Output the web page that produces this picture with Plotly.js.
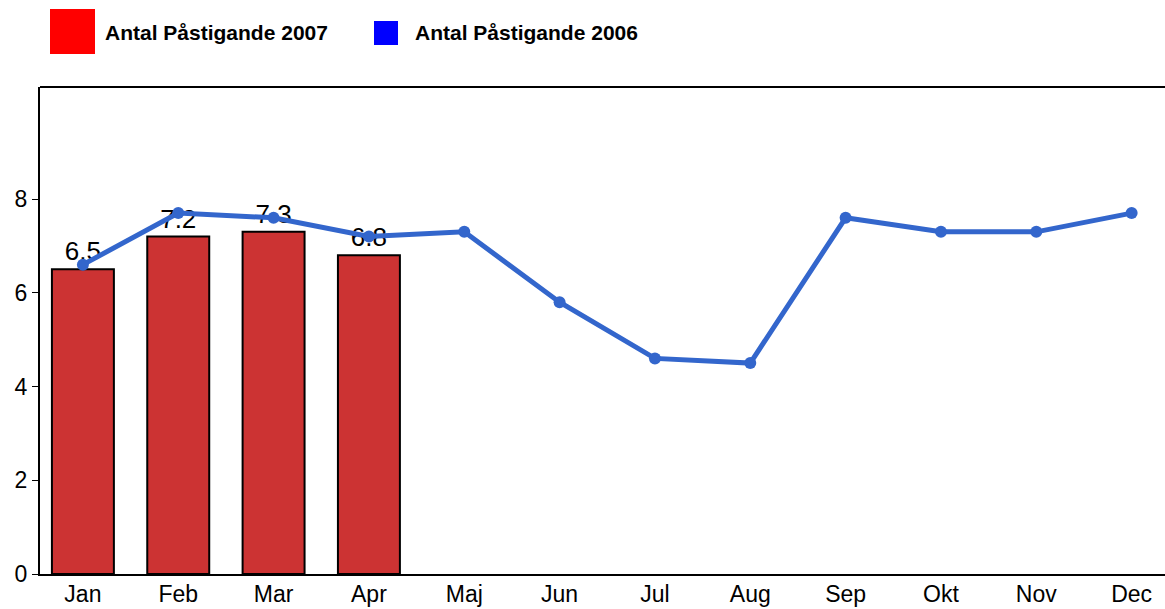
<!DOCTYPE html>
<html>
<head>
<meta charset="utf-8">
<script src="https://cdn.plot.ly/plotly-3.0.1.min.js"></script>
<style>html,body{margin:0;padding:0;background:#fff;}#chart{width:1165px;height:609px;}</style>
</head>
<body>
<div id="chart"></div>
<script>
const months = ["Jan","Feb","Mar","Apr","Maj","Jun","Jul","Aug","Sep","Okt","Nov","Dec"];
const months2007 = ["Jan","Feb","Mar","Apr"];
const values2007 = [6.5, 7.2, 7.3, 6.8];
const values2006 = [6.6, 7.7, 7.6, 7.2, 7.3, 5.8, 4.6, 4.5, 7.6, 7.3, 7.3, 7.7];
const seriesNames = ["Antal Påstigande 2007", "Antal Påstigande 2006"];
const yTicks = [0, 2, 4, 6, 8];

const font = "Liberation Sans, Arial, sans-serif";
const traces = [
  {
    type: "bar", x: months2007, y: values2007, name: seriesNames[0],
    marker: {color: "#CC3333", line: {color: "#000", width: 2}},
    width: 0.65,
    text: values2007.map(v => v.toFixed(1)), textposition: "outside",
    constraintext: "none",
    outsidetextfont: {family: font, size: 26, color: "#000"},
    textfont: {family: font, size: 26, color: "#000"},
    cliponaxis: false, hoverinfo: "x+y"
  },
  {
    type: "scatter", mode: "lines+markers", x: months, y: values2006, name: seriesNames[1],
    line: {color: "#3366CC", width: 5}, marker: {color: "#3366CC", size: 12},
    cliponaxis: false
  }
];

const layout = {
  width: 1165, height: 609,
  margin: {l: 40, r: 0, t: 87, b: 35},
  paper_bgcolor: "#fff", plot_bgcolor: "#fff",
  showlegend: false,
  font: {family: font, size: 23, color: "#000"},
  xaxis: {
    type: "category", categoryarray: months, categoryorder: "array",
    range: [-0.45, 11.35], showgrid: false, zeroline: false,
    showline: true, linecolor: "#000", linewidth: 2,
    ticks: "", ticklabelstandoff: -2,
    tickfont: {family: font, size: 23, color: "#000"}, fixedrange: true
  },
  yaxis: {
    range: [0, 10.39], tickvals: yTicks, showgrid: false, zeroline: false,
    showline: true, linecolor: "#000", linewidth: 2,
    ticks: "outside", ticklen: 6, tickwidth: 1, tickcolor: "#000",
    tickfont: {family: font, size: 23, color: "#000"}, fixedrange: true
  },
  bargap: 0.35,
  shapes: [
    {type: "line", xref: "paper", yref: "paper", x0: 0, x1: 1, y0: 1, y1: 1, line: {color: "#000", width: 2}},
    {type: "rect", xref: "paper", yref: "paper",
     x0: (50-40)/1125, x1: (95-40)/1125, y0: (574-9)/487, y1: (574-54)/487,
     fillcolor: "#FF0000", line: {width: 0}},
    {type: "rect", xref: "paper", yref: "paper",
     x0: (374-40)/1125, x1: (398-40)/1125, y0: (574-21)/487, y1: (574-45)/487,
     fillcolor: "#0000FF", line: {width: 0}}
  ],
  annotations: [
    {xref: "paper", yref: "paper", x: (103-40)/1125, y: (574-32)/487, xanchor: "left", yanchor: "middle",
     text: "<b>" + seriesNames[0] + "</b>", showarrow: false, font: {family: font, size: 21, color: "#000"}},
    {xref: "paper", yref: "paper", x: (413-40)/1125, y: (574-32)/487, xanchor: "left", yanchor: "middle",
     text: "<b>" + seriesNames[1] + "</b>", showarrow: false, font: {family: font, size: 21, color: "#000"}}
  ]
};

Plotly.newPlot("chart", traces, layout, {displayModeBar: false, staticPlot: true});
</script>
</body>
</html>
